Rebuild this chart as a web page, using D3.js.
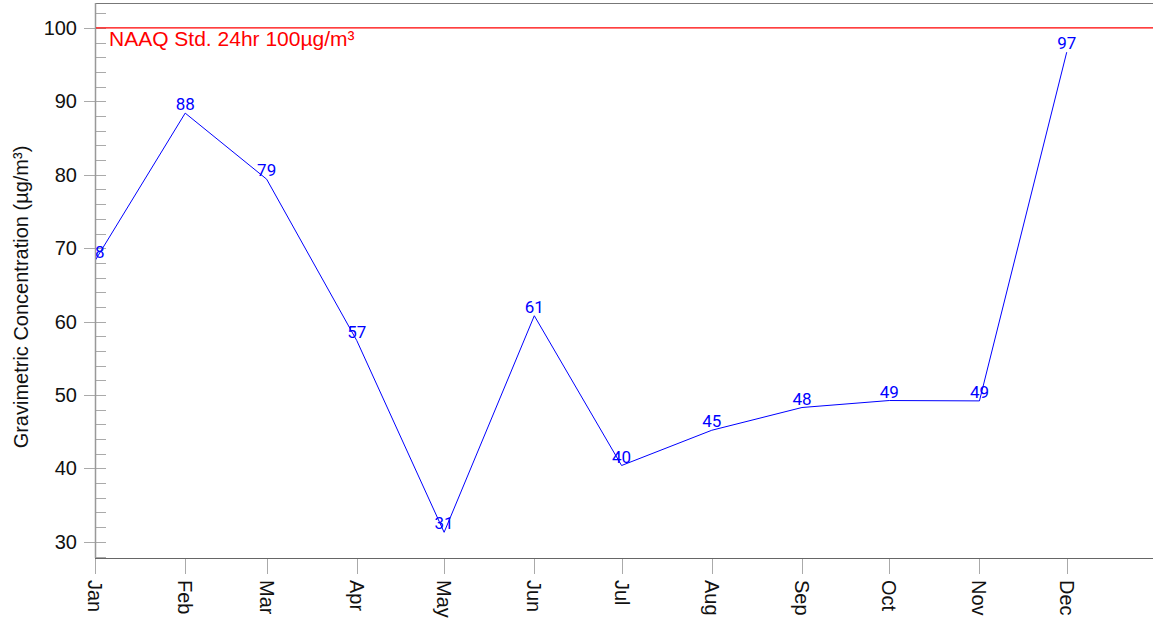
<!DOCTYPE html>
<html>
<head>
<meta charset="utf-8">
<script src="https://cdn.jsdelivr.net/npm/d3@7"></script>
<style>
  body { margin: 0; background: #fff; }
  svg { display: block; font-family: "Liberation Sans", Arial, sans-serif; }
</style>
</head>
<body>
<div id="chart"></div>
<script>
// monthly values
var months = ["Jan","Feb","Mar","Apr","May","Jun","Jul","Aug","Sep","Oct","Nov","Dec"];
var values = [68.3, 88.4, 79.4, 57.4, 31.3, 60.8, 40.4, 45.2, 48.3, 49.25, 49.2, 96.7];
var majorTicks = [30, 40, 50, 60, 70, 80, 90, 100];
var minorTicks = d3.range(28, 103, 2);
var stdValue = 100;
var stdLabel = "NAAQ Std. 24hr 100µg/m³";
var yTitle = "Gravimetric Concentration (µg/m³)";

var width = 1153, height = 620;
var plotLeft = 95, plotTop = 3, plotBottom = 558;

var data = months.map(function(m, i) {
  return { month: m, date: new Date(2021, i, 1), value: values[i] };
});

var svg = d3.select("#chart").append("svg")
    .attr("width", width)
    .attr("height", height);

var x = d3.scaleTime()
    .domain([new Date(2021, 0, 1), new Date(2021, 11, 31)])
    .range([plotLeft, 1154]);

var y = d3.scaleLinear()
    .domain([27.8, 103.4])
    .range([plotBottom, plotTop]);

svg.append("defs").append("clipPath")
    .attr("id", "plotclip")
  .append("rect")
    .attr("x", plotLeft + 1)
    .attr("y", plotTop)
    .attr("width", width - plotLeft)
    .attr("height", plotBottom - plotTop);

// frame top
svg.append("line")
    .attr("x1", plotLeft).attr("x2", width)
    .attr("y1", plotTop + 0.5).attr("y2", plotTop + 0.5)
    .attr("stroke", "#777");

// y ticks
svg.selectAll(".minor")
    .data(minorTicks.filter(function(d) { return d % 10 !== 0; }))
  .enter().append("line")
    .attr("class", "minor")
    .attr("x1", plotLeft).attr("x2", plotLeft + 11)
    .attr("y1", function(d) { return Math.round(y(d)) + 0.5; })
    .attr("y2", function(d) { return Math.round(y(d)) + 0.5; })
    .attr("stroke", "#aaa");

svg.selectAll(".major")
    .data(majorTicks)
  .enter().append("line")
    .attr("class", "major")
    .attr("x1", plotLeft - 11).attr("x2", plotLeft + 11)
    .attr("y1", function(d) { return Math.round(y(d)) + 0.5; })
    .attr("y2", function(d) { return Math.round(y(d)) + 0.5; })
    .attr("stroke", "#aaa");

svg.selectAll(".ylab")
    .data(majorTicks)
  .enter().append("text")
    .attr("class", "ylab")
    .attr("x", 77)
    .attr("y", function(d) { return y(d); })
    .attr("dy", "0.35em")
    .attr("text-anchor", "end")
    .attr("font-size", 20)
    .attr("fill", "#111")
    .text(function(d) { return d; });

svg.append("line")
    .attr("x1", plotLeft + 0.5).attr("x2", plotLeft + 0.5)
    .attr("y1", plotTop).attr("y2", plotBottom)
    .attr("stroke", "#999")
    .attr("stroke-width", 1.5);

// x axis
svg.append("line")
    .attr("x1", plotLeft).attr("x2", width)
    .attr("y1", plotBottom + 0.5).attr("y2", plotBottom + 0.5)
    .attr("stroke", "#666");

svg.selectAll(".xtick")
    .data(data)
  .enter().append("line")
    .attr("class", "xtick")
    .attr("x1", function(d) { return Math.round(x(d.date)) + 0.5; })
    .attr("x2", function(d) { return Math.round(x(d.date)) + 0.5; })
    .attr("y1", plotBottom + 1).attr("y2", plotBottom + 16)
    .attr("stroke", "#aaa");

svg.selectAll(".xlab")
    .data(data)
  .enter().append("text")
    .attr("class", "xlab")
    .attr("transform", function(d) { return "translate(" + x(d.date) + "," + 580 + ") rotate(90)"; })
    .attr("dy", "0.35em")
    .attr("font-size", 20)
    .attr("fill", "#111")
    .text(function(d) { return d.month; });

// y title
svg.append("text")
    .attr("transform", "translate(28,297) rotate(-90)")
    .attr("text-anchor", "middle")
    .attr("font-size", 20)
    .attr("fill", "#111")
    .text(yTitle);

var plot = svg.append("g").attr("clip-path", "url(#plotclip)");

// standard line
plot.append("line")
    .attr("x1", plotLeft).attr("x2", width)
    .attr("y1", y(stdValue)).attr("y2", y(stdValue))
    .attr("stroke", "#f00")
    .attr("stroke-width", 1.3);

plot.append("text")
    .attr("x", 109)
    .attr("y", y(stdValue) + 18)
    .attr("font-size", 21)
    .attr("fill", "#f00")
    .text(stdLabel);

var line = d3.line()
    .x(function(d) { return x(d.date); })
    .y(function(d) { return y(d.value); });

plot.append("path")
    .datum(data)
    .attr("d", line)
    .attr("fill", "none")
    .attr("stroke", "#00f")
    .attr("stroke-width", 1);

plot.selectAll(".vlab")
    .data(data)
  .enter().append("text")
    .attr("class", "vlab")
    .attr("x", function(d) { return x(d.date); })
    .attr("y", function(d) { return y(d.value) - 3; })
    .attr("text-anchor", "middle")
    .attr("font-size", 17)
    .attr("font-family", "Roboto, sans-serif")
    .attr("fill", "#00f")
    .text(function(d) { return Math.round(d.value); });
</script>
</body>
</html>
